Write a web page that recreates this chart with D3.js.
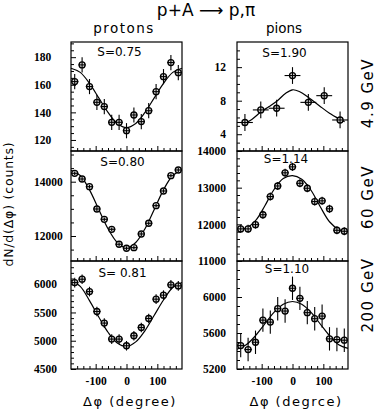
<!DOCTYPE html>
<html><head><meta charset="utf-8">
<script src="https://cdn.jsdelivr.net/npm/d3@7"></script>
<style>
html,body{margin:0;padding:0;background:#fff;}
svg{display:block;}
.tick line{stroke:#000;stroke-width:1;}
.domain{display:none;}
</style></head>
<body><svg id="c" width="379" height="415"></svg>
<script>
// ---------- data ----------
const phi15 = [-168,-144,-120,-96,-72,-48,-24,0,24,48,72,96,120,144,168];
const phi7 = [-154.3,-102.9,-51.4,0,51.4,102.9,154.3];

const protons49  = [162.3,174.4,158.7,147.3,144.2,132.8,132.8,126.7,138.1,133.3,141.2,155,165.9,176.1,168.8];
const protons60  = [14309,14099,13816,12995,12616,12248,11696,11549,11571,12075,12469,13117,13658,14221,14431];
const protons200 = [6028,6088,5869,5517,5312,5029,5029,4911,5088,5234,5393,5735,5806,5988,5970];
const pions49    = [5.4,6.9,7.1,11.0,7.8,8.6,5.7];
const pions60    = [11876,11876,11992,12262,12757,13046,13405,13568,13119,12984,12622,12641,12424,11838,11811];
const pions200   = [5460,5416,5497,5743,5721,5870,5844,6097,5985,5826,5759,5788,5535,5527,5520];

const errProtons49 = 5.5, errProtons60 = 70, errProtons200 = 85;
const errPions49 = 1.0, errPions60 = 110, errPions200 = 130;
const binHalf15 = 12, binHalf7 = 25.7;

const fitPhi = [-180,-150,-120,-90,-60,-30,0,30,60,90,120,150,180];
const fitPhiPi49 = [-164,-131,-101,-76,-49,-22,0,22,55,87,120,153,169];
const fitProtons49  = [172,169,161,150.5,140,132,129,132,140,150.5,161,169,172];
const fitProtons60  = [14420,14230,13700,12980,12270,11760,11560,11760,12270,12980,13700,14230,14420];
const fitProtons200 = [6070,5960,5710,5420,5150,4960,4900,4980,5180,5450,5720,5940,6030];
const fitPions49    = [5.1,5.8,6.7,7.3,8.0,8.9,9.3,9.1,8.3,7.4,6.5,5.8,5.5];
const fitPions60    = [11860,11900,12100,12500,12950,13250,13330,13230,12930,12480,12070,11860,11800];
const fitPions200   = [5420,5470,5570,5700,5830,5920,5950,5920,5830,5700,5570,5470,5430];

const sLabels = ["S=0.75","S=0.80","S= 0.81","S=1.90","S=1.14","S=1.10"];
const yTicksP49 = [120,140,160,180];
const yTicksP60 = [12000,14000];
const yTicksP200 = [4500,5000,5500,6000];
const yTicksPi49 = [4,8,12];
const yTicksPi60 = [11000,12000,13000,14000];
const yTicksPi200 = [5200,5600,6000];
const xTicks = [-100,0,100];
const columnTitles = ["protons","pions"];
const energyLabels = ["4.9 GeV","60 GeV","200 GeV"];
const title = "p+A ⟶ p,π";
const yTitle = "dN/d(Δφ) (counts)";
const xTitles = ["Δφ (degree)","Δφ (degrce)"];

// ---------- layout ----------
const svg = d3.select("#c");
const cols = [{x0:71,x1:182},{x0:237,x1:348}];
const rows = [{y0:42,y1:151},{y0:151,y1:261},{y0:261,y1:369}];

const panels = [
  {c:0,r:0,phi:phi15,v:protons49,e:errProtons49,h:binHalf15,dom:[112,191],ticks:yTicksP49,minor:d3.range(115,191,5),fx:fitPhi,fy:fitProtons49,s:sLabels[0],sx:119.5,sy:56},
  {c:0,r:1,phi:phi15,v:protons60,e:errProtons60,h:binHalf15,dom:[11080,15130],ticks:yTicksP60,minor:d3.range(11500,15100,500),fx:fitPhi,fy:fitProtons60,s:sLabels[1],sx:122.5,sy:166},
  {c:0,r:2,phi:phi15,v:protons200,e:errProtons200,h:binHalf15,dom:[4500,6410],ticks:yTicksP200,minor:d3.range(4600,6400,100),fx:fitPhi,fy:fitProtons200,s:sLabels[2],sx:122.5,sy:277},
  {c:1,r:0,phi:phi7,v:pions49,e:errPions49,h:binHalf7,dom:[2,15],ticks:yTicksPi49,minor:d3.range(3,15,1),fx:fitPhiPi49,fy:fitPions49,s:sLabels[3],sx:284.5,sy:57},
  {c:1,r:1,phi:phi15,v:pions60,e:errPions60,h:binHalf15,dom:[11000,14000],ticks:yTicksPi60,minor:d3.range(11200,14000,200),fx:fitPhi,fy:fitPions60,s:sLabels[4],sx:286,sy:163},
  {c:1,r:2,phi:phi15,v:pions200,e:errPions200,h:binHalf15,dom:[5200,6400],ticks:yTicksPi200,minor:d3.range(5300,6400,100),fx:fitPhi,fy:fitPions200,s:sLabels[5],sx:287,sy:273}
];

const tickFont = "'Liberation Serif', 'DejaVu Serif', serif";
const sansFont = "'DejaVu Sans', sans-serif";

panels.forEach(p => {
  const col = cols[p.c], row = rows[p.r];
  const x = d3.scaleLinear().domain([-180,180]).range([col.x0,col.x1]);
  const y = d3.scaleLinear().domain(p.dom).range([row.y1,row.y0]);
  const g = svg.append("g");

  g.append("g").attr("transform",`translate(${col.x0},0)`)
    .call(d3.axisLeft(y).tickValues(p.minor.filter(t=>!p.ticks.includes(t))).tickSize(-3).tickFormat(""));
  const ya = g.append("g").attr("transform",`translate(${col.x0},0)`)
    .call(d3.axisLeft(y).tickValues(p.ticks).tickSize(-5).tickPadding(11).tickFormat(d3.format("d")));
  ya.selectAll("text").attr("font-family",tickFont).attr("font-weight","bold")
    .attr("font-size","11.5px").attr("fill","#000");
  if (p.c === 0) {
    ya.selectAll("text").attr("text-anchor","start").attr("x", 34 - col.x0);
  }
  g.append("g").attr("transform",`translate(0,${row.y1})`)
    .call(d3.axisBottom(x).tickValues(d3.range(-160,161,20).filter(t=>!xTicks.includes(t))).tickSize(-3).tickFormat(""));
  const xa = g.append("g").attr("transform",`translate(0,${row.y1})`)
    .call(d3.axisBottom(x).tickValues(xTicks).tickSize(-5).tickPadding(8).tickFormat(p.r===2 ? d3.format("d") : ""));
  xa.selectAll("text").attr("font-family",tickFont).attr("font-weight","bold")
    .attr("font-size","11.5px").attr("fill","#000").text(d=> p.r===2 ? (d<0? "-"+Math.abs(d) : d) : "");

  g.append("rect").attr("x",col.x0).attr("y",row.y0)
    .attr("width",col.x1-col.x0).attr("height",row.y1-row.y0)
    .attr("fill","none").attr("stroke","#000").attr("stroke-width",1.2);

  const line = d3.line().x(d=>x(d[0])).y(d=>y(d[1])).curve(d3.curveCatmullRom);
  g.append("path").datum(p.fx.map((f,i)=>[f,p.fy[i]]))
    .attr("d",line).attr("fill","none").attr("stroke","#000").attr("stroke-width",1.2);

  const pts = g.append("g").selectAll("g").data(p.phi.map((f,i)=>({f,v:p.v[i]}))).join("g");
  pts.append("circle").attr("cx",d=>x(d.f)).attr("cy",d=>y(d.v)).attr("r",3)
    .attr("fill","#ddd").attr("stroke","#000").attr("stroke-width",1.3);
  pts.append("line").attr("x1",d=>x(d.f)).attr("x2",d=>x(d.f))
    .attr("y1",d=>y(d.v - p.e)).attr("y2",d=>y(d.v + p.e))
    .attr("stroke","#000").attr("stroke-width",1.1);
  pts.append("line").attr("x1",d=>x(d.f - p.h)).attr("x2",d=>x(d.f + p.h))
    .attr("y1",d=>y(d.v)).attr("y2",d=>y(d.v))
    .attr("stroke","#000").attr("stroke-width",1.1);

  g.append("text").attr("x",p.sx).attr("y",p.sy).attr("text-anchor","middle")
    .attr("font-family",sansFont).attr("font-size","12px").text(p.s);
});

svg.append("text").attr("x",206).attr("y",16).attr("text-anchor","middle")
  .attr("font-family",sansFont).attr("font-size","17px").text(title);
svg.append("text").attr("x",124).attr("y",33).attr("text-anchor","middle")
  .attr("font-family",sansFont).attr("font-size","13.5px").attr("letter-spacing","1.5px").text(columnTitles[0]);
svg.append("text").attr("x",284).attr("y",33).attr("text-anchor","middle")
  .attr("font-family",sansFont).attr("font-size","13.5px").text(columnTitles[1]);

svg.append("text").attr("transform","translate(13,204) rotate(-90)").attr("text-anchor","middle")
  .attr("font-family",sansFont).attr("font-size","12.5px").attr("letter-spacing","0.8px").text(yTitle);

const eY = [93,197,295];
energyLabels.forEach((t,i)=>{
  svg.append("text").attr("transform",`translate(373,${eY[i]}) rotate(-90)`).attr("text-anchor","middle")
    .attr("font-family",sansFont).attr("font-size","15px").attr("letter-spacing","1.5px").text(t);
});
[130,296].forEach((cx,i)=>{
  svg.append("text").attr("x",cx).attr("y",406).attr("text-anchor","middle")
    .attr("font-family",sansFont).attr("font-size","13px").attr("letter-spacing","1.5px").text(xTitles[i]);
});
</script></body></html>
